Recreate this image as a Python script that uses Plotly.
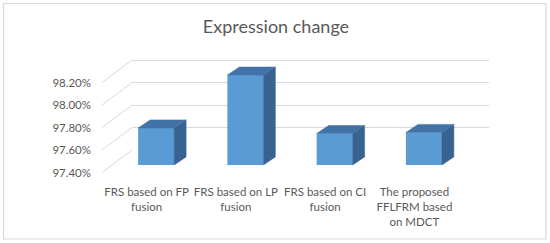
import plotly.graph_objects as go

# ---- data ----
categories = [
    "FRS based on FP<br>fusion",
    "FRS based on LP<br>fusion",
    "FRS based on CI<br>fusion",
    "The proposed<br>FFLFRM based<br>on MDCT",
]
values = [97.73, 98.20, 97.68, 97.69]
y_ticks = [97.40, 97.60, 97.80, 98.00, 98.20]
y_tick_labels = ["97.40%", "97.60%", "97.80%", "98.00%", "98.20%"]
title_text = "Expression change"

# ---- geometry (pixels) ----
W, H = 550, 243
Y_MIN, Y_MAX = 97.40, 98.40
PX_PER_UNIT = 112.5


def xp(px):
    return px / W


def yp(py):
    return 1 - py / H


def ydom(bottom_px):
    return [yp(bottom_px), yp(bottom_px - PX_PER_UNIT * (Y_MAX - Y_MIN))]


front_x = [102, 459]
front_bottom = 172.5
back_x = [132, 489]
back_bottom = 150
bar_x = [111.5, 468.5]
bar_bottom = 165

FONT = "Lato"
GREY = "#595959"
GRID = "#d9d9d9"
FRONT_COL = "#5B9BD5"
TOP_COL = "#4273A6"
SIDE_COL = "#386391"

n = len(categories)
xs = list(range(n))
bar_w = 0.403
cat_px = (bar_x[1] - bar_x[0]) / n
dx = 12 / cat_px          # depth offset in category units
dy = 8 / PX_PER_UNIT      # depth offset in value units

fig = go.Figure()

# back wall gridlines (x2/y2)
fig.add_trace(go.Scatter(x=[], y=[], xaxis="x2", yaxis="y2", showlegend=False))

# bars (x3/y3)
fig.add_trace(go.Bar(
    x=xs, y=values, width=bar_w, marker=dict(color=FRONT_COL, line=dict(width=0)),
    xaxis="x3", yaxis="y3", showlegend=False, hoverinfo="skip",
))
for x, v in zip(xs, values):
    l, r = x - bar_w / 2, x + bar_w / 2
    # side face
    fig.add_trace(go.Scatter(
        x=[r, r, r + dx, r + dx, r], y=[Y_MIN, v, v + dy, Y_MIN + dy, Y_MIN],
        fill="toself", fillcolor=SIDE_COL, mode="lines", line=dict(width=0.5, color=SIDE_COL),
        xaxis="x3", yaxis="y3", showlegend=False, hoverinfo="skip",
    ))
    # top face
    fig.add_trace(go.Scatter(
        x=[l, r, r + dx, l + dx, l], y=[v, v, v + dy, v + dy, v],
        fill="toself", fillcolor=TOP_COL, mode="lines", line=dict(width=0.5, color=TOP_COL),
        xaxis="x3", yaxis="y3", showlegend=False, hoverinfo="skip",
    ))

# front plane: carries the tick labels
fig.add_trace(go.Scatter(x=[], y=[], xaxis="x", yaxis="y", showlegend=False))

# side-wall diagonal gridlines
shift = (front_bottom - back_bottom) / PX_PER_UNIT
shapes = []
for t in y_ticks:
    shapes.append(dict(type="line", xref="paper", yref="y",
                       x0=xp(front_x[0]), y0=t, x1=xp(back_x[0]), y1=t + shift,
                       line=dict(color=GRID, width=1), layer="below"))
# chart border
shapes.append(dict(type="rect", xref="paper", yref="paper",
                   x0=xp(3.5), y0=yp(239), x1=xp(546), y1=yp(3.5),
                   line=dict(color=GRID, width=1.2), layer="below"))

fig.update_layout(
    width=W, height=H,
    margin=dict(l=0, r=0, t=0, b=0),
    paper_bgcolor="white", plot_bgcolor="rgba(0,0,0,0)",
    font=dict(family=FONT, color=GREY),
    title=dict(text=title_text, x=xp(276), y=yp(27), xanchor="center", yanchor="middle",
               xref="paper", yref="paper",
               font=dict(family=FONT, size=18, color=GREY)),
    shapes=shapes,
    xaxis=dict(domain=[xp(front_x[0]), xp(front_x[1])], range=[-0.5, n - 0.5],
               tickvals=xs, ticktext=categories, tickangle=0, showgrid=False, zeroline=False,
               showline=False, ticks="", ticklabelstandoff=11, automargin=False,
               tickfont=dict(family=FONT, size=11.5, color=GREY)),
    yaxis=dict(domain=ydom(front_bottom), range=[Y_MIN, Y_MAX],
               tickvals=y_ticks, ticktext=y_tick_labels,
               showgrid=False, zeroline=False, showline=False, ticks="",
               ticklabelstandoff=10, automargin=False,
               tickfont=dict(family=FONT, size=11.5, color=GREY)),
    xaxis2=dict(domain=[xp(back_x[0]), xp(back_x[1])], range=[-0.5, n - 0.5],
                showgrid=False, zeroline=False, showticklabels=False, anchor="y2"),
    yaxis2=dict(domain=ydom(back_bottom), range=[Y_MIN, Y_MAX], tickvals=y_ticks,
                showgrid=True, gridcolor=GRID, gridwidth=1.2, zeroline=False,
                showticklabels=False, anchor="x2"),
    xaxis3=dict(domain=[xp(bar_x[0]), xp(bar_x[1])], range=[-0.5, n - 0.5],
                showgrid=False, zeroline=False, showticklabels=False, anchor="y3"),
    yaxis3=dict(domain=ydom(bar_bottom), range=[Y_MIN, Y_MAX],
                showgrid=False, zeroline=False, showticklabels=False, anchor="x3"),
)

fig.write_html("out.html", config={"displayModeBar": False},
               post_script="document.body.style.margin='0px';")
